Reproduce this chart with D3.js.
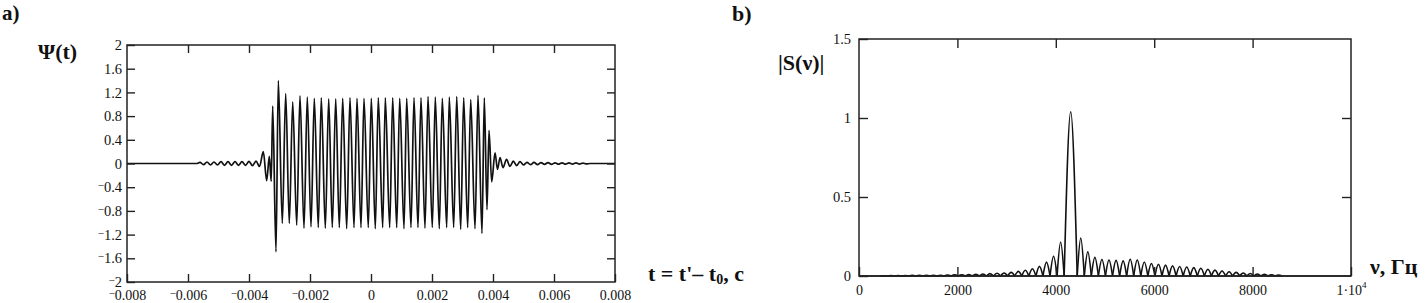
<!DOCTYPE html>
<meta charset="UTF-8">
<script src="https://d3js.org/d3.v7.min.js"></script>
<style>
  body { margin: 0; background: #fff; }
  svg text { font-family: "Liberation Serif", "Times New Roman", serif; fill: #111; }
</style>
<div id="chart"></div>
<script>

// ---- a) signal Psi(t): extrema, time in microseconds
const psiTimeUs = [
  -8000, -5720,
  -5607, -5492, -5377, -5262, -5148, -5033, -4918, -4803, -4689, -4574, -4459, -4344, -4230, -4115, -4000, -3885, -3770, -3656,
  -3531, -3420, -3334, -3272,
  -3223, -3115, -3039, -2908, -2797, -2679, -2567, -2436, -2328, -2197, -2089, -1967, -1859, -1728, -1630, -1498,
  -1387, -1269, -1157, -1039, -928, -797, -689, -557, -459, -328, -230, -89, 10, 141, 239, 384, 469, 613, 711, 843,
  941, 1082, 1170, 1311, 1410, 1541, 1639, 1770, 1869, 2010, 2108, 2239, 2338, 2482, 2567, 2711, 2810, 2941, 3039, 3170,
  3269, 3410, 3508, 3639, 3715, 3803, 3869, 3957,
  4066, 4148, 4230, 4328, 4443, 4557, 4666, 4777, 4885, 5000, 5115, 5230, 5344, 5459, 5574, 5689, 5803, 5918, 6033, 6148,
  6262, 6377, 6492, 6607, 6721, 6836, 6951, 7066, 7180, 8000
];
const psiValue = [
  0, 0,
  0.02, -0.02, 0.025, -0.025, 0.025, -0.025, 0.03, -0.03, 0.03, -0.03, 0.03, -0.03, 0.03, -0.03, 0.035, -0.035, 0.04, -0.05,
  0.2, -0.29, 0.12, -0.30,
  0.97, -1.49, 1.40, -1.01, 1.18, -1.01, 1.04, -1.04, 1.14, -1.09, 1.12, -1.07, 1.10, -1.08, 1.11, -1.09,
  1.09, -1.08, 1.09, -1.08, 1.10, -1.10, 1.11, -1.08, 1.10, -1.08, 1.10, -1.08, 1.10, -1.10, 1.11, -1.08, 1.11, -1.08, 1.11, -1.08,
  1.10, -1.10, 1.10, -1.08, 1.11, -1.08, 1.11, -1.09, 1.13, -1.08, 1.12, -1.10, 1.10, -1.08, 1.12, -1.08, 1.13, -1.11, 1.11, -1.08,
  1.08, -1.10, 1.15, -1.18, 1.11, -0.78, 0.56, -0.31,
  0.18, -0.10, 0.10, -0.07, 0.07, -0.05, 0.04, -0.035, 0.03, -0.025, 0.02, -0.02, 0.018, -0.018, 0.015, -0.015, 0.015, -0.015, 0.012, -0.012,
  0.012, -0.012, 0.01, -0.01, 0.01, -0.01, 0.008, -0.008, 0, 0
];
const psiTicksX = [-0.008, -0.006, -0.004, -0.002, 0, 0.002, 0.004, 0.006, 0.008];
const psiLabelsX = ["−0.008", "−0.006", "−0.004", "−0.002", "0", "0.002", "0.004", "0.006", "0.008"];
const psiTicksY = [-2, -1.6, -1.2, -0.8, -0.4, 0, 0.4, 0.8, 1.2, 1.6, 2];
const psiLabelsY = ["−2", "−1.6", "−1.2", "−0.8", "−0.4", "0", "0.4", "0.8", "1.2", "1.6", "2"];

// ---- b) spectrum |S(nu)|: zeros between lobes (Hz) and lobe heights
const specZeros = [
  436, 580, 724, 867, 1011, 1154, 1298, 1442, 1585, 1729, 1872, 2016, 2160, 2303, 2447, 2590, 2734, 2878, 3021, 3165,
  3308, 3452, 3596, 3739, 3883, 4026, 4170,
  4435, 4579, 4722, 4866, 5009, 5153, 5297, 5440, 5584, 5727, 5871, 6015, 6158, 6302, 6445, 6589, 6733, 6876, 7020,
  7163, 7307, 7451, 7594, 7738, 7881, 8025, 8169, 8312, 8456, 8600
];
const specLobes = [
  0.002, 0.003, 0.003, 0.003, 0.004, 0.004, 0.004, 0.005, 0.005, 0.006, 0.007, 0.008, 0.009, 0.011, 0.013, 0.015,
  0.017, 0.019, 0.023, 0.029, 0.036, 0.046, 0.061, 0.088, 0.125, 0.215,
  1.04,
  0.240, 0.153, 0.118, 0.104, 0.101, 0.099, 0.096, 0.106, 0.101, 0.089, 0.079, 0.074, 0.069, 0.064, 0.060, 0.057,
  0.053, 0.049, 0.043, 0.037, 0.032, 0.027, 0.023, 0.019, 0.016, 0.013, 0.010, 0.008, 0.006
];
const specTicksX = [0, 2000, 4000, 6000, 8000, 10000];
const specLabelsX = ["0", "2000", "4000", "6000", "8000", "1·10^4"];
const specTicksY = [0, 0.5, 1, 1.5];
const specLabelsY = ["0", "0.5", "1", "1.5"];


const svg = d3.select("#chart").append("svg")
  .attr("width", 1426)
  .attr("height", 303);

svg.append("rect").attr("width", 1426).attr("height", 303).attr("fill", "#fff");

// Mathcad style labels: raised small minus, superscript after ^
function richLabel(text, s) {
  text.text(null);
  if (s.startsWith("−")) {
    text.append("tspan").attr("font-size", "11px").attr("baseline-shift", "3").text("−");
    text.append("tspan").text(s.slice(1));
    return;
  }
  if (s.includes("^")) {
    const [base, sup] = s.split("^");
    text.append("tspan").text(base);
    text.append("tspan").attr("font-size", "9px").attr("baseline-shift", "7").text(sup);
    return;
  }
  text.text(s);
}

function framedAxes(g, x, y, ticksX, labelsX, ticksY, labelsY, tick, padX, padY) {
  const [x0, x1] = x.range(), [y0, y1] = y.range();
  const innerX = ticksX.slice(1, -1), innerY = ticksY.slice(1, -1);

  g.append("g")
    .attr("transform", `translate(0,${y0})`)
    .call(d3.axisBottom(x).tickValues(ticksX).tickSize(-tick).tickPadding(padX)
      .tickFormat((d, i) => labelsX[i]))
    .call(a => a.select(".domain").remove())
    .call(a => a.selectAll("text").attr("font-size", "14px")
      .each(function(d, i) { richLabel(d3.select(this), labelsX[i]); }));

  g.append("g")
    .attr("transform", `translate(${x0},0)`)
    .call(d3.axisLeft(y).tickValues(ticksY).tickSize(-tick).tickPadding(padY)
      .tickFormat((d, i) => labelsY[i]))
    .call(a => a.select(".domain").remove())
    .call(a => a.selectAll("text").attr("font-size", "14.5px")
      .each(function(d, i) { richLabel(d3.select(this), labelsY[i]); }));

  g.append("g")
    .attr("transform", `translate(0,${y1})`)
    .call(d3.axisTop(x).tickValues(innerX).tickSize(-tick).tickFormat(""))
    .call(a => a.select(".domain").remove());

  g.append("g")
    .attr("transform", `translate(${x1},0)`)
    .call(d3.axisRight(y).tickValues(innerY).tickSize(-tick).tickFormat(""))
    .call(a => a.select(".domain").remove());

  g.selectAll(".tick line").attr("stroke", "#222").attr("stroke-width", 1.4);
  g.selectAll("g").attr("font-family", null);
  g.selectAll("text").attr("fill", "#111");

  g.append("rect")
    .attr("x", x0).attr("y", y1)
    .attr("width", x1 - x0).attr("height", y0 - y1)
    .attr("fill", "none").attr("stroke", "#222").attr("stroke-width", 1.5);
}

// ---------- panel a
const xa = d3.scaleLinear().domain([-0.008, 0.008]).range([127, 615]);
const ya = d3.scaleLinear().domain([-2, 2]).range([282, 45]);

const gA = svg.append("g");

const psiData = psiTimeUs.map((t, i) => [t / 1e6, psiValue[i]]);

gA.append("path")
  .datum(psiData)
  .attr("fill", "none")
  .attr("stroke", "#111")
  .attr("stroke-width", 1.7)
  .attr("stroke-linejoin", "round")
  .attr("d", d3.line().x(d => xa(d[0])).y(d => ya(d[1])).curve(d3.curveMonotoneX));

framedAxes(gA, xa, ya, psiTicksX, psiLabelsX, psiTicksY, psiLabelsY, 8, 8, 5);

// ---------- panel b
const xb = d3.scaleLinear().domain([0, 10000]).range([859, 1351]);
const yb = d3.scaleLinear().domain([0, 1.5]).range([276, 39]);

const gB = svg.append("g");

const lobeLine = d3.line().x(d => xb(d[0])).y(d => yb(d[1])).curve(d3.curveNatural);

gB.append("path")
  .attr("fill", "none").attr("stroke", "#111").attr("stroke-width", 1.5)
  .attr("d", d3.line().x(d => xb(d[0])).y(d => yb(d[1]))([[0, 0], [10000, 0]]));

gB.selectAll("path.lobe")
  .data(specLobes)
  .join("path")
  .attr("class", "lobe")
  .attr("fill", "none")
  .attr("stroke", "#111")
  .attr("stroke-width", 1.6)
  .attr("d", (h, i) => {
    const a = specZeros[i], b = specZeros[i + 1];
    return lobeLine([[a, 0], [(a + b) / 2, h], [b, 0]]);
  });

framedAxes(gB, xb, yb, specTicksX, specLabelsX, specTicksY, specLabelsY, 9, 9, 8);

// ---------- titles and axis names
const bold = (x, y, size = 22) => svg.append("text")
  .attr("x", x).attr("y", y)
  .attr("font-size", size + "px")
  .attr("font-weight", "bold");

bold(2, 20, 21).text("a)");
bold(38, 59).text("Ψ(t)");

const tl = bold(648, 281);
tl.append("tspan").text("t = t'– t");
tl.append("tspan").attr("font-size", "14px").attr("dy", "3").text("0");
tl.append("tspan").attr("dy", "-3").text(", с");

bold(732, 21).text("b)");
bold(778, 70).text("|S(ν)|");
bold(1370, 274).text("ν, Гц");

</script>
